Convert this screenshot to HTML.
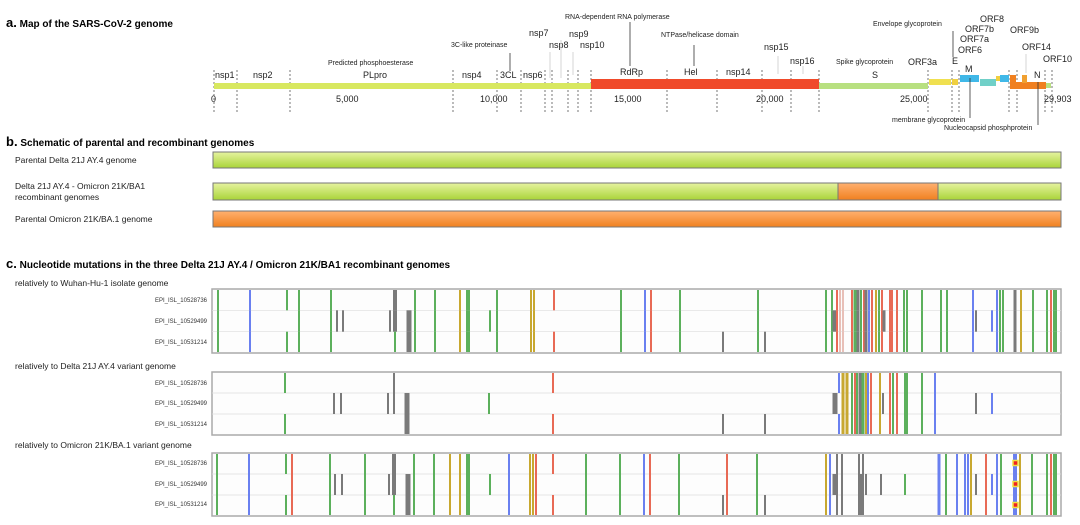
<!DOCTYPE html>
<html><head><meta charset="utf-8"><style>
body{margin:0;background:#fff;width:1080px;height:520px;overflow:hidden;font-family:"Liberation Sans",sans-serif}
svg text{font-family:"Liberation Sans",sans-serif}
</style></head><body>
<svg id="s" width="1080" height="520" xmlns="http://www.w3.org/2000/svg">
<defs>
<linearGradient id="gg" x1="0" y1="0" x2="0" y2="1"><stop offset="0" stop-color="#e6f3a0"/><stop offset="1" stop-color="#a9d438"/></linearGradient>
<linearGradient id="og" x1="0" y1="0" x2="0" y2="1"><stop offset="0" stop-color="#ffb070"/><stop offset="1" stop-color="#f08020"/></linearGradient>
</defs>
<!-- a -->
<text x="6" y="27" font-size="10" font-weight="bold"><tspan font-size="13">a.</tspan> Map of the SARS-CoV-2 genome</text>
<g stroke="#555" stroke-dasharray="2,2" stroke-width="0.8">
<line x1="214" y1="70" x2="214" y2="112"/><line x1="237" y1="70" x2="237" y2="112"/><line x1="290" y1="70" x2="290" y2="112"/>
<line x1="453" y1="70" x2="453" y2="112"/><line x1="497" y1="70" x2="497" y2="112"/><line x1="521" y1="70" x2="521" y2="112"/>
<line x1="545" y1="70" x2="545" y2="112"/><line x1="552" y1="70" x2="552" y2="112"/><line x1="568" y1="70" x2="568" y2="112"/><line x1="578" y1="70" x2="578" y2="112"/><line x1="591" y1="70" x2="591" y2="112"/>
<line x1="667" y1="70" x2="667" y2="112"/><line x1="717" y1="70" x2="717" y2="112"/><line x1="762" y1="70" x2="762" y2="112"/><line x1="791" y1="70" x2="791" y2="112"/><line x1="819" y1="70" x2="819" y2="112"/>
<line x1="928" y1="70" x2="928" y2="112"/><line x1="952" y1="70" x2="952" y2="112"/><line x1="959" y1="70" x2="959" y2="112"/><line x1="1009" y1="70" x2="1009" y2="112"/><line x1="1017" y1="70" x2="1017" y2="112"/><line x1="1045" y1="70" x2="1045" y2="112"/><line x1="1052" y1="70" x2="1052" y2="112"/>
</g>
<rect x="214" y="83" width="377" height="6" fill="#d8e860"/>
<rect x="591" y="79" width="228" height="10" fill="#f04a2a"/>
<rect x="819" y="83" width="109" height="6" fill="#b8e080"/>
<rect x="929" y="79" width="22" height="6" fill="#f0e050"/>
<rect x="952" y="79" width="6" height="6" fill="#f0d040"/>
<rect x="960" y="75" width="19" height="7" fill="#40b8e8"/>
<rect x="980" y="79" width="16" height="7" fill="#70d0c8"/>
<rect x="996" y="76" width="4" height="5" fill="#f0d040"/>
<rect x="1000" y="75" width="9" height="7" fill="#40b8e8"/>
<rect x="1010" y="75" width="6" height="14" fill="#f08020"/>
<rect x="1010" y="82" width="36" height="7" fill="#f08020"/>
<rect x="1022" y="75" width="5" height="8" fill="#f0a030"/>
<rect x="1046" y="83" width="5" height="5" fill="#b8e080"/>
<g font-size="9" fill="#222">
<text x="215" y="78">nsp1</text><text x="253" y="78">nsp2</text><text x="363" y="78">PLpro</text><text x="462" y="78">nsp4</text><text x="500" y="78">3CL</text><text x="523" y="78">nsp6</text>
<text x="529" y="36">nsp7</text><text x="549" y="48">nsp8</text><text x="569" y="37">nsp9</text><text x="580" y="48">nsp10</text>
<text x="620" y="75">RdRp</text><text x="684" y="75">Hel</text><text x="726" y="75">nsp14</text><text x="764" y="50">nsp15</text><text x="790" y="64">nsp16</text>
<text x="872" y="78">S</text><text x="908" y="65">ORF3a</text><text x="952" y="64">E</text><text x="965" y="72">M</text>
<text x="958" y="53">ORF6</text><text x="960" y="42">ORF7a</text><text x="965" y="32">ORF7b</text><text x="980" y="22">ORF8</text><text x="1010" y="33">ORF9b</text><text x="1022" y="50">ORF14</text><text x="1043" y="62">ORF10</text><text x="1034" y="78">N</text>
<text x="211" y="102">0</text><text x="336" y="102">5,000</text><text x="480" y="102">10,000</text><text x="614" y="102">15,000</text><text x="756" y="102">20,000</text><text x="900" y="102">25,000</text><text x="1044" y="102">29,903</text>
</g>
<g font-size="7" fill="#222">
<text x="328" y="65">Predicted phosphoesterase</text><text x="451" y="47">3C-like proteinase</text><text x="565" y="19">RNA-dependent RNA polymerase</text>
<text x="661" y="37">NTPase/helicase domain</text><text x="836" y="64">Spike glycoprotein</text><text x="873" y="26">Envelope glycoprotein</text>
<text x="892" y="122">membrane glycoprotein</text><text x="944" y="130">Nucleocapsid phosphprotein</text>
</g>
<g stroke="#333" stroke-width="0.8">
<line x1="510" y1="53" x2="510" y2="71"/><line x1="630" y1="22" x2="630" y2="66"/><line x1="694" y1="45" x2="694" y2="66"/>
<line x1="953" y1="31" x2="953" y2="57"/><line x1="970" y1="78" x2="970" y2="118"/><line x1="1038" y1="82" x2="1038" y2="125"/>
</g>
<g stroke="#ccc" stroke-width="0.8">
<line x1="550" y1="52" x2="550" y2="78"/><line x1="561" y1="40" x2="561" y2="78"/><line x1="573" y1="52" x2="573" y2="75"/><line x1="778" y1="56" x2="778" y2="74"/><line x1="803" y1="66" x2="803" y2="74"/><line x1="1026" y1="54" x2="1026" y2="73"/>
</g>
<!-- b -->
<text x="6" y="146" font-size="10" font-weight="bold"><tspan font-size="13">b.</tspan> Schematic of parental and recombinant genomes</text>
<g font-size="8.5" fill="#222">
<text x="15" y="163">Parental Delta 21J AY.4 genome</text>
<text x="15" y="189">Delta 21J AY.4 - Omicron 21K/BA1</text><text x="15" y="200">recombinant genomes</text>
<text x="15" y="222">Parental Omicron 21K/BA.1 genome</text>
</g>
<rect x="213" y="152" width="848" height="16" fill="url(#gg)" stroke="#777"/>
<rect x="213" y="183" width="848" height="17" fill="url(#gg)" stroke="#777"/>
<rect x="838" y="183" width="100" height="17" fill="url(#og)" stroke="#777"/>
<rect x="213" y="211" width="848" height="16" fill="url(#og)" stroke="#777"/>
<!-- c -->
<text x="6" y="268" font-size="10" font-weight="bold"><tspan font-size="13">c.</tspan> Nucleotide mutations in the three Delta 21J AY.4 / Omicron 21K/BA1  recombinant genomes</text>
<g font-size="8.5" fill="#222">
<text x="15" y="286">relatively to Wuhan-Hu-1 isolate genome</text>
<text x="15" y="369">relatively to Delta 21J AY.4 variant genome</text>
<text x="15" y="448">relatively to Omicron 21K/BA.1 variant genome</text>
</g>
<g id="lab" font-size="6" fill="#333" text-anchor="end">
<text x="207" y="302">EPI_ISL_10528736</text><text x="207" y="323">EPI_ISL_10529499</text><text x="207" y="344">EPI_ISL_10531214</text>
<text x="207" y="385">EPI_ISL_10528736</text><text x="207" y="405">EPI_ISL_10529499</text><text x="207" y="426">EPI_ISL_10531214</text>
<text x="207" y="465">EPI_ISL_10528736</text><text x="207" y="486">EPI_ISL_10529499</text><text x="207" y="506">EPI_ISL_10531214</text>
</g>
<g id="muts"></g>
</svg>
<script>
var G='#5cb05c',B='#6a80f0',R='#e86a55',K='#7a7a7a',Y='#c8a830',P='#e8c0b8';
var panels=[
{y:289,h:64,m:[[218,G,7],[250,B,7],[287,G,5],[299,G,7],[331,G,7],[337,K,2],[343,K,2],[390,K,2],[395,K,3,4],[395,G,4],[409,K,6,5],[415,G,7],[435,G,7],[460,Y,7],[468,G,7,4],[490,G,2],[497,G,7],[531,Y,7],[534,Y,7],
[554,R,5],[621,G,7],[645,B,7],[651,R,7],[680,G,7],[723,K,4],[758,G,7],[765,K,4],[826,Y,7],[826,G,7],[832,G,7],[835,K,2,5],[837,R,7],[840,P,7],[843,P,7],
[852,R,7],[855,G,7,3],[858,K,7,3],[861,G,7],[864,R,7],[866,K,7,3],[869,B,7],[872,R,7],[876,Y,7],[879,G,7],[882,R,7],[884,K,2,3],[890,R,7],[892,R,7],[897,R,7],[904,G,7],[907,G,7],[922,G,7],[941,G,7],[947,G,7],[973,B,7],[976,K,2],[992,B,2],[997,B,7],[1000,G,7],[1003,G,7],[1015,K,7,3],[1021,Y,7],[1033,G,7],[1047,G,7],[1051,R,7],[1055,G,7,4]]},
{y:372,h:63,m:[[285,G,5],[334,K,2],[341,K,2],[388,K,2],[394,K,3],[407,K,6,5],[489,G,2],[553,R,5],[723,K,4],[765,K,4],[835,K,2,5],[839,B,5],[843,Y,7,3],[847,Y,7,3],[852,G,7],[855,R,7],[857,G,7],[860,K,7,3],[863,G,7,3],[866,Y,7],[868,B,7],[871,R,7],[880,Y,7],[883,K,2],[890,R,7],[893,G,7],[897,R,7],[905,G,7],[907,G,7],[922,G,7],[935,B,7],[976,K,2],[992,B,2]]},
{y:453,h:63,m:[[217,G,7],[249,B,7],[286,G,5],[292,R,7],[330,G,7],[365,G,7],[335,K,2],[342,K,2],[389,K,2],[394,K,3,4],[394,G,4],[408,K,6,5],[414,G,7],[434,G,7],[450,Y,7],[460,Y,7],[468,G,7,4],[490,G,2],[509,B,7],[530,Y,7],[533,Y,7],[536,R,7],
[553,R,5],[586,G,7],[620,G,7],[644,B,7],[650,R,7],[679,G,7],[723,K,4],[727,R,7],[757,G,7],[765,K,4],[826,Y,7],[830,B,7],[835,K,2,5],[837,K,7],[842,K,7],[859,K,7],[863,K,7],[862,K,6,4],[866,K,2],[881,K,2],[905,G,2],[939,B,7,3],[946,G,7],[957,B,7],[965,B,7],[968,B,7],[971,Y,7],[976,K,2],[986,R,7],[992,B,2],[997,B,7],[1001,G,7],[1015,B,7,4],[1020,Y,7],[1032,G,7],[1047,G,7],[1051,R,7],[1055,G,7,4]]}
];
var ns='http://www.w3.org/2000/svg',g=document.getElementById('muts');
function el(t,a){var e=document.createElementNS(ns,t);for(var k in a)e.setAttribute(k,a[k]);g.appendChild(e);return e;}
panels.forEach(function(p,pi){
 el('rect',{x:212,y:p.y,width:849,height:p.h,fill:'#fdfdfd',stroke:'#aaa','stroke-width':1.5});
 var rh=p.h/3;
 for(var i=1;i<3;i++)el('line',{x1:212,x2:1061,y1:p.y+rh*i,y2:p.y+rh*i,stroke:'#ddd','stroke-width':0.7});
 p.m.forEach(function(m){var w=m[3]||2;for(var r=0;r<3;r++){if(m[2]&(1<<r)){el('rect',{x:m[0]-w/2,y:p.y+rh*r+(r==0?1:0),width:w,height:rh-(r==0||r==2?1:0),fill:m[1]});}}});
 if(pi==2){for(var r=0;r<3;r++)el('rect',{x:1013,y:p.y+rh*r+rh/2-3,width:5,height:5,fill:'#f02020',stroke:'#f0e040','stroke-width':1.5});}
});
</script>
</body></html>
